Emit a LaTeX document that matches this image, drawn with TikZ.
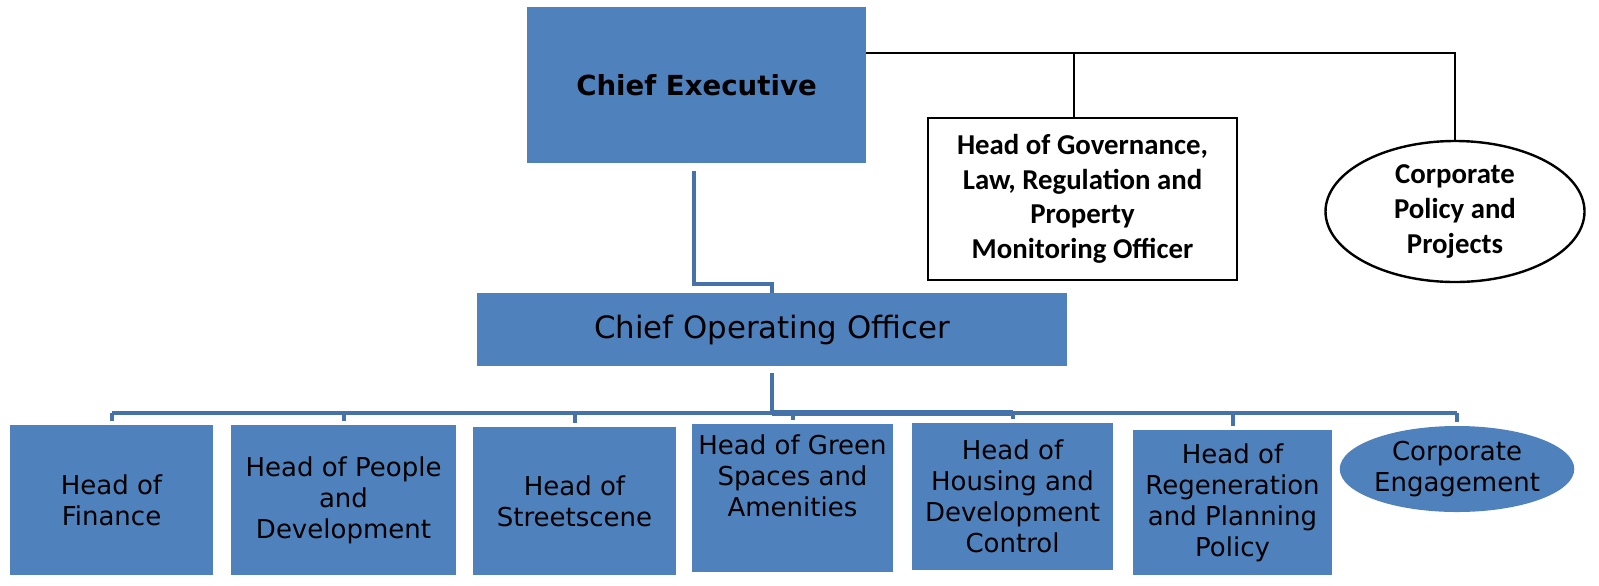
\documentclass[tikz,border=0pt]{standalone}
\usepackage{fontspec}
\setmainfont{DejaVu Sans}
\newfontfamily\calfont{Carlito}
\usetikzlibrary{shapes.geometric}
\definecolor{boxblue}{HTML}{4F81BD}
\definecolor{lineblue}{HTML}{4672AA}
\tikzset{
  x=0.5pt, y=-0.5pt,
  bluebox/.style={fill=boxblue, draw=none, inner sep=0pt, align=center,
    font=\fontsize{13}{15.5}\selectfont},
  blueline/.style={draw=lineblue, line width=2pt},
  blackline/.style={draw=black, line width=1.2pt},
  whitebox/.style={fill=white, draw=black, line width=1.2pt, inner sep=0pt, align=center,
    font=\calfont\bfseries\fontsize{14.4}{17.3}\selectfont},
  txt/.style={inner sep=0pt, align=center, font=\fontsize{13}{15.5}\selectfont},
}
\begin{document}
\begin{tikzpicture}
\useasboundingbox[fill=white] (0,0) rectangle (1599,585);
% top level
\node[bluebox, minimum width=169.5pt, minimum height=78pt,
  font=\bfseries\fontsize{13.8}{16}\selectfont] (ce) at (696.5,85) {Chief Executive};
\node[bluebox, minimum width=295pt, minimum height=36.5pt,
  font=\fontsize{15.4}{18}\selectfont] (coo) at (772,329.5) {Chief Operating Officer};
\node[whitebox, minimum width=154.5pt, minimum height=81pt] (gov) at (1082.5,199)
  {Head of Governance,\\Law, Regulation and\\Property\\Monitoring Officer};
\node[whitebox, ellipse, minimum width=129.5pt, minimum height=70.5pt] (cpp) at (1455,211.5)
  {Corporate\\Policy and\\Projects};
% children
\node[bluebox, minimum width=101.5pt, minimum height=75pt] (c1) at (111.5,500) {Head of\\Finance};
\node[bluebox, minimum width=112.5pt, minimum height=75pt] (c2) at (343.5,500) {Head of People\\and\\Development};
\node[bluebox, minimum width=101.5pt, minimum height=74pt] (c3) at (574.5,501) {Head of\\Streetscene};
\node[bluebox, minimum width=100.5pt, minimum height=74pt] (c4) at (792.5,498) {};
\node[txt] (c4t) at (792.5,476) {Head of Green\\Spaces and\\Amenities};
\node[bluebox, minimum width=100.5pt, minimum height=73.5pt] (c5) at (1012.5,496.5) {Head of\\Housing and\\Development\\Control};
\node[bluebox, minimum width=99.5pt, minimum height=72.5pt] (c6) at (1232.5,502.5) {Head of\\Regeneration\\and Planning\\Policy};
\node[bluebox, ellipse, minimum width=107pt, minimum height=43pt] (c7) at (1457,469) {Corporate\\Engagement};
% connectors CE -> COO
\draw[blueline] ([xshift=-1.25pt,yshift=-4pt]ce.south) -- ++(0,113) -| (coo.north);
% bus
\coordinate (busy) at (0,413);
\draw[blueline] ([yshift=-3.5pt]coo.south) -- (coo.south |- busy);
\draw[blueline] (c1.north |- busy) -- (c7.north |- busy);
\draw[blueline, line width=3.2pt] (coo.south |- busy) -- (c5.north |- busy);
\foreach \i in {1,2,3,4,5,6,7}{
  \draw[blueline] (c\i.north |- busy) -- ([yshift=2pt]c\i.north);
}
% black connectors
\coordinate (topy) at ([yshift=16pt]ce.east);
\draw[blackline] (topy) -| (cpp.north);
\draw[blackline] ([xshift=-4.25pt]gov.north) -- ([xshift=-4.25pt]gov.north |- topy);
\end{tikzpicture}
\end{document}
